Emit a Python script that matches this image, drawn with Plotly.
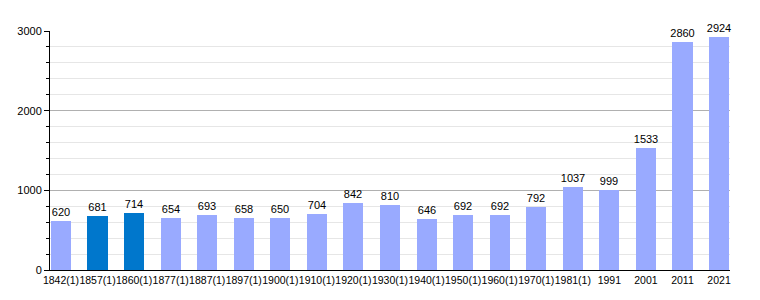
import plotly.graph_objects as go

years = ["1842(1)", "1857(1)", "1860(1)", "1877(1)", "1887(1)", "1897(1)", "1900(1)",
         "1910(1)", "1920(1)", "1930(1)", "1940(1)", "1950(1)", "1960(1)", "1970(1)",
         "1981(1)", "1991", "2001", "2011", "2021"]
population = [620, 681, 714, 654, 693, 658, 650, 704, 842, 810, 646, 692, 692, 792,
              1037, 999, 1533, 2860, 2924]
highlight = [False, True, True] + [False] * 16

light = "#99aaff"
dark = "#0077cc"
colors = [dark if h else light for h in highlight]

fig = go.Figure(go.Bar(
    x=list(range(len(years))), y=population,
    marker=dict(color=colors, line=dict(width=0)),
    width=0.55,
    text=[str(v) for v in population], textposition="outside",
    constraintext="none",
    textfont=dict(family="Liberation Sans, Arial, sans-serif", size=11, color="black"),
    cliponaxis=False,
))

fig.update_layout(
    width=760, height=300,
    margin=dict(l=50, r=30, t=31, b=30),
    plot_bgcolor="white", paper_bgcolor="white",
    showlegend=False,
    font=dict(family="Liberation Sans, Arial, sans-serif", size=11, color="black"),
    bargap=0,
)
fig.update_xaxes(
    range=[-0.3, len(years) - 0.7],
    tickvals=list(range(len(years))), ticktext=years,
    tickangle=0,
    showline=True, linecolor="black", linewidth=1,
    showgrid=False, ticks="", tickfont=dict(size=10.5),
    automargin=False,
)
fig.update_yaxes(
    range=[0, 3000],
    tickvals=[0, 1000, 2000, 3000],
    showline=True, linecolor="black", linewidth=1,
    showgrid=True, gridcolor="#b0b0b0", gridwidth=1,
    ticks="outside", ticklen=5, tickcolor="black",
    minor=dict(dtick=200, showgrid=True, gridcolor="#e6e6e6", ticks="outside", ticklen=3, tickcolor="black"),
    zeroline=False, tickfont=dict(size=11),
    automargin=False,
)

fig.write_html("out.html")
